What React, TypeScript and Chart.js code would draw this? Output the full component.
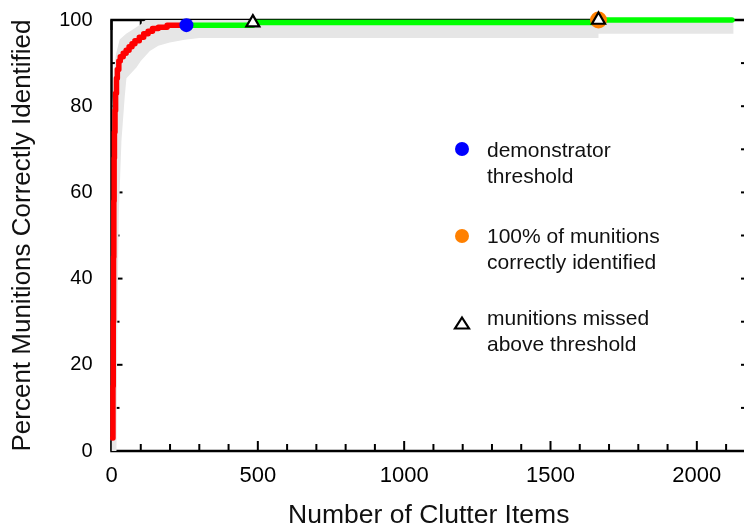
import React, { useEffect, useRef } from "react";
import { Chart, registerables } from "chart.js";

Chart.register(...registerables);

// ---- data ----
const xTickValues = [0, 500, 1000, 1500, 2000];
const yTickValues = [0, 20, 40, 60, 80, 100];
const xMax = 2168;

// red ROC curve (clutter items vs percent munitions identified)
const redX = [4, 5, 6, 7, 8, 9, 10, 12, 14, 17, 20, 25, 30, 40, 50, 60, 70, 80, 95, 110, 125, 140, 160, 190, 256];
const redY = [3, 15, 30, 45, 58, 68, 74, 79, 83, 86.5, 88.5, 90.5, 91.5, 92.3, 93, 93.8, 94.5, 95.2, 96, 96.8, 97.4, 98, 98.3, 98.8, 98.8];

// green continuation above threshold
const greenX = [256, 483, 483, 1664, 1664, 2120];
const greenY = [98.8, 98.8, 99.4, 99.4, 100, 100];

// grey confidence band
const bandUpperX = [0, 2, 3, 5, 8, 15, 28, 50, 73, 100, 120, 1664, 1664, 2125];
const bandUpperY = [0, 30, 50, 80, 88, 92, 95.5, 96.8, 97.8, 99, 100.2, 100.2, 100.9, 100.9];
const bandLowerX = [2125, 1664, 1664, 300, 250, 199, 160, 131, 100, 85, 51, 45, 34, 25, 20, 17];
const bandLowerY = [96.8, 96.8, 95.8, 95.8, 95.4, 94.8, 94, 92.8, 90.5, 89, 86.5, 82, 72, 55, 30, 0];

// markers
const thresholdX = [256];
const thresholdY = [98.8];
const allFoundX = [1664];
const allFoundY = [100];
const missedX = [483, 1664];
const missedY = [99.4, 100];

// legend
const legendLines = [
  ["demonstrator", "threshold"],
  ["100% of munitions", "correctly identified"],
  ["munitions missed", "above threshold"],
];
const legendKinds = ["blue", "orange", "triangle"];

const xTitle = "Number of Clutter Items";
const yTitle = "Percent Munitions Correctly Identified";

const FONT = "'Liberation Sans', Arial, Helvetica, sans-serif";
const BLUE = "#0000ff";
const ORANGE = "#ff8000";
const RED = "#ff0000";
const GREEN = "#00ff00";
const GREY = "#e6e6e6";

const zip = (xs: number[], ys: number[]) => xs.map((x, i) => ({ x, y: ys[i] }));

function drawTriangle(ctx: CanvasRenderingContext2D, cx: number, cy: number, w: number, h: number) {
  ctx.beginPath();
  ctx.moveTo(cx, cy - h / 2);
  ctx.lineTo(cx + w / 2, cy + h / 2);
  ctx.lineTo(cx - w / 2, cy + h / 2);
  ctx.closePath();
  ctx.fillStyle = "#ffffff";
  ctx.fill();
  ctx.lineWidth = 2.2;
  ctx.strokeStyle = "#000";
  ctx.lineJoin = "miter";
  ctx.stroke();
}

const framePlugin = {
  id: "frame",
  beforeDatasetsDraw(chart: any) {
    const { ctx, chartArea, scales } = chart;
    const { left, right, top, bottom } = chartArea;
    const x = scales.x;
    const y = scales.y;
    ctx.save();
    ctx.strokeStyle = "#000";
    ctx.lineWidth = 2.5;
    ctx.strokeRect(left, top, right - left, bottom - top);
    ctx.lineWidth = 2;
    const seg = (x1: number, y1: number, x2: number, y2: number) => {
      ctx.beginPath();
      ctx.moveTo(x1, y1);
      ctx.lineTo(x2, y2);
      ctx.stroke();
    };
    for (let v = 0; v <= x.max; v += 100) {
      const px = x.getPixelForValue(v);
      const len = v % 500 === 0 ? 10 : 7;
      seg(px, bottom, px, bottom - len);
      seg(px, top, px, top + len);
    }
    for (let v = 0; v <= 100; v += 10) {
      const py = y.getPixelForValue(v);
      const len = v % 20 === 0 ? 11 : 8;
      seg(left, py, left + len, py);
      seg(right, py, right - 5, py);
    }
    ctx.restore();
  },
};

const legendPlugin = {
  id: "customLegend",
  afterDraw(chart: any) {
    const { ctx } = chart;
    const markerX = 462;
    const textX = 487;
    const baselines = [[157, 183], [243, 269], [325, 351]];
    const centers = [149, 236, 323];
    ctx.save();
    ctx.font = `21px ${FONT}`;
    ctx.textAlign = "left";
    ctx.textBaseline = "alphabetic";
    legendLines.forEach((lines, i) => {
      const kind = legendKinds[i];
      if (kind === "triangle") {
        drawTriangle(ctx, markerX, centers[i], 14, 11);
      } else {
        ctx.beginPath();
        ctx.arc(markerX, centers[i], 7, 0, Math.PI * 2);
        ctx.fillStyle = kind === "blue" ? BLUE : ORANGE;
        ctx.fill();
      }
      ctx.fillStyle = "#111";
      lines.forEach((t, j) => ctx.fillText(t, textX, baselines[i][j]));
    });
    ctx.restore();
  },
};

export default function App() {
  const ref = useRef<HTMLCanvasElement>(null);

  useEffect(() => {
    if (!ref.current) return;
    Chart.defaults.font.family = FONT;
    const chart = new Chart(ref.current, {
      type: "line",
      data: {
        datasets: [
          {
            label: "missed",
            data: zip(missedX, missedY),
            showLine: false,
            pointStyle: "triangle",
            pointRadius: 7.5,
            pointBackgroundColor: "#ffffff",
            pointBorderColor: "#000000",
            pointBorderWidth: 2.2,
            clip: false,
          } as any,
          {
            label: "all found",
            data: zip(allFoundX, allFoundY),
            showLine: false,
            pointRadius: 8.5,
            pointBackgroundColor: ORANGE,
            pointBorderWidth: 0,
            clip: false,
          } as any,
          {
            label: "threshold",
            data: zip(thresholdX, thresholdY),
            showLine: false,
            pointRadius: 7,
            pointBackgroundColor: BLUE,
            pointBorderWidth: 0,
            clip: false,
          } as any,
          {
            label: "red",
            data: zip(redX, redY),
            borderColor: RED,
            borderWidth: 5.5,
            pointRadius: 0,
            stepped: "before",
            borderCapStyle: "round",
            borderJoinStyle: "round",
            fill: false,
            clip: false,
          } as any,
          {
            label: "green",
            data: zip(greenX, greenY),
            borderColor: GREEN,
            borderWidth: 5.5,
            pointRadius: 0,
            borderCapStyle: "round",
            borderJoinStyle: "round",
            fill: false,
            clip: false,
          } as any,
          {
            label: "band",
            data: [...zip(bandUpperX, bandUpperY), ...zip(bandLowerX, bandLowerY)],
            borderWidth: 0,
            borderColor: "rgba(0,0,0,0)",
            backgroundColor: GREY,
            pointRadius: 0,
            fill: "shape",
            clip: false,
          } as any,
        ],
      },
      options: {
        animation: false,
        responsive: false,
        events: [],
        layout: { padding: { top: 20, right: 14, left: 0, bottom: 0 } },
        plugins: {
          legend: { display: false },
          tooltip: { enabled: false },
        },
        scales: {
          x: {
            type: "linear",
            min: 0,
            max: xMax,
            grid: { display: false, drawTicks: false },
            border: { display: false },
            afterBuildTicks: (s: any) => {
              s.ticks = xTickValues.map((v) => ({ value: v }));
            },
            ticks: {
              color: "#000",
              font: { size: 22, family: FONT },
              padding: 12,
              maxRotation: 0,
              autoSkip: false,
              callback: (v: any) => String(v),
            },
            title: {
              display: true,
              text: xTitle,
              color: "#111",
              font: { size: 26.5, family: FONT, lineHeight: 1 },
              padding: { top: 0, bottom: -2 },
            },
            afterFit: (s: any) => {
              s.height = 76;
              s.paddingLeft = 0;
              s.paddingRight = 0;
            },
          },
          y: {
            type: "linear",
            min: 0,
            max: 100,
            grid: { display: false, drawTicks: false },
            border: { display: false },
            afterBuildTicks: (s: any) => {
              s.ticks = yTickValues.map((v) => ({ value: v }));
            },
            ticks: {
              color: "#000",
              font: { size: 20, family: FONT },
              padding: 19,
              autoSkip: false,
              callback: (v: any) => String(v),
            },
            title: {
              display: true,
              text: yTitle,
              color: "#111",
              font: { size: 26, family: FONT, lineHeight: 1 },
              padding: { top: 10, bottom: 0 },
            },
            afterFit: (s: any) => {
              s.width = 111.5;
              s.paddingTop = 0;
              s.paddingBottom = 0;
            },
          },
        },
      } as any,
      plugins: [framePlugin, legendPlugin],
    });
    return () => chart.destroy();
  }, []);

  return (
    <div
      style={{
        position: "fixed",
        left: 0,
        top: 0,
        width: 744,
        height: 527,
        overflow: "hidden",
        background: "#fff",
      }}
    >
      <canvas ref={ref} width={760} height={527} style={{ display: "block" }} />
    </div>
  );
}
